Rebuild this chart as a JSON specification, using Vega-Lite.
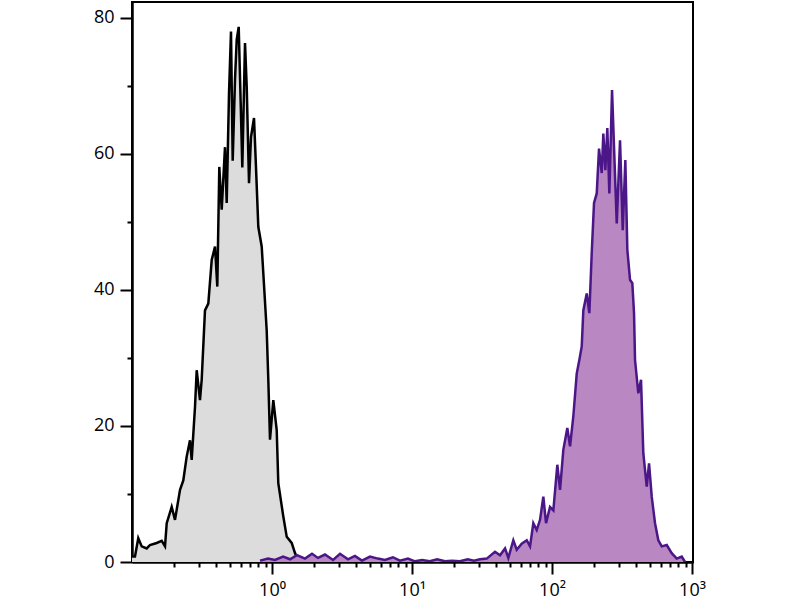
{
  "$schema": "https://vega.github.io/schema/vega-lite/v6.json",
  "width": 561,
  "height": 560,
  "autosize": {"type": "none"},
  "padding": {"left": 132, "top": 2, "right": 107, "bottom": 38},
  "background": "white",
  "config": {
    "view": {"stroke": "black", "strokeWidth": 2},
    "font": "Open Sans",
    "axis": {
      "grid": false,
      "domainColor": "black",
      "domainWidth": 2,
      "tickColor": "black",
      "tickWidth": 2,
      "labelColor": "black",
      "labelFont": "Open Sans",
      "labelFontSize": 18,
      "title": null
    }
  },
  "datasets": {
    "control": [
      {"x": 0.1, "count": 0.8}, {"x": 0.105, "count": 0.8}, {"x": 0.1109, "count": 3.5},
      {"x": 0.1173, "count": 2.3}, {"x": 0.1274, "count": 2.0}, {"x": 0.1344, "count": 2.5},
      {"x": 0.1501, "count": 2.8}, {"x": 0.163, "count": 3.1}, {"x": 0.1721, "count": 2.3},
      {"x": 0.177, "count": 5.7}, {"x": 0.1921, "count": 8.1}, {"x": 0.2028, "count": 6.2},
      {"x": 0.2203, "count": 10.6}, {"x": 0.2325, "count": 12.0}, {"x": 0.2458, "count": 15.5},
      {"x": 0.2596, "count": 17.9}, {"x": 0.2669, "count": 15.0}, {"x": 0.2818, "count": 22.8},
      {"x": 0.2898, "count": 28.2}, {"x": 0.3059, "count": 23.8}, {"x": 0.3146, "count": 26.8},
      {"x": 0.3321, "count": 37.0}, {"x": 0.3508, "count": 38.0}, {"x": 0.371, "count": 44.4},
      {"x": 0.3916, "count": 46.4}, {"x": 0.4067, "count": 40.5}, {"x": 0.4203, "count": 58.1},
      {"x": 0.4372, "count": 51.8}, {"x": 0.4615, "count": 61.0}, {"x": 0.4746, "count": 52.8},
      {"x": 0.493, "count": 68.9}, {"x": 0.5094, "count": 78.0}, {"x": 0.5239, "count": 59.0},
      {"x": 0.5441, "count": 70.9}, {"x": 0.5596, "count": 76.8}, {"x": 0.5782, "count": 78.7},
      {"x": 0.5975, "count": 67.5}, {"x": 0.6136, "count": 58.0}, {"x": 0.6414, "count": 76.3},
      {"x": 0.6597, "count": 69.9}, {"x": 0.6851, "count": 55.7}, {"x": 0.7079, "count": 62.5},
      {"x": 0.7437, "count": 65.3}, {"x": 0.7686, "count": 58.0}, {"x": 0.7983, "count": 49.3},
      {"x": 0.844, "count": 46.4}, {"x": 0.8666, "count": 42.5}, {"x": 0.9166, "count": 34.0},
      {"x": 0.941, "count": 26.8}, {"x": 0.9676, "count": 18.0}, {"x": 1.0216, "count": 23.8},
      {"x": 1.0803, "count": 19.4}, {"x": 1.109, "count": 11.6}, {"x": 1.204, "count": 6.7},
      {"x": 1.274, "count": 3.7}, {"x": 1.382, "count": 2.8}, {"x": 1.46, "count": 1.3},
      {"x": 1.541, "count": 0.3}, {"x": 1.6, "count": 0}
    ],
    "stained": [
      {"x": 0.821, "count": 0.2}, {"x": 0.936, "count": 0.5}, {"x": 1.05, "count": 0.3},
      {"x": 1.2, "count": 0.8}, {"x": 1.345, "count": 0.4}, {"x": 1.508, "count": 1.0},
      {"x": 1.72, "count": 0.5}, {"x": 1.93, "count": 1.2}, {"x": 2.13, "count": 0.6},
      {"x": 2.39, "count": 1.1}, {"x": 2.73, "count": 0.3}, {"x": 3.06, "count": 1.2},
      {"x": 3.49, "count": 0.4}, {"x": 3.91, "count": 0.9}, {"x": 4.39, "count": 0.2},
      {"x": 5.01, "count": 0.8}, {"x": 5.71, "count": 0.5}, {"x": 6.41, "count": 0.3},
      {"x": 7.3, "count": 0.7}, {"x": 8.2, "count": 0.2}, {"x": 9.35, "count": 0.5},
      {"x": 10.5, "count": 0.1}, {"x": 11.8, "count": 0.3}, {"x": 13.4, "count": 0.1},
      {"x": 15.1, "count": 0.4}, {"x": 17.2, "count": 0.1}, {"x": 19.3, "count": 0.2},
      {"x": 22.0, "count": 0.1}, {"x": 25.0, "count": 0.4}, {"x": 27.7, "count": 0.2},
      {"x": 30.6, "count": 0.4}, {"x": 34.17, "count": 0.5}, {"x": 39.16, "count": 1.5},
      {"x": 42.53, "count": 1.0}, {"x": 46.17, "count": 2.0}, {"x": 48.74, "count": 0.6},
      {"x": 52.91, "count": 3.2}, {"x": 55.96, "count": 1.8}, {"x": 60.75, "count": 2.7},
      {"x": 65.97, "count": 3.2}, {"x": 69.65, "count": 2.3}, {"x": 73.52, "count": 5.7},
      {"x": 77.75, "count": 4.7}, {"x": 82.09, "count": 6.2}, {"x": 86.68, "count": 9.6},
      {"x": 90.61, "count": 5.7}, {"x": 96.76, "count": 8.1}, {"x": 102.2, "count": 7.6},
      {"x": 109.1, "count": 14.3}, {"x": 114.1, "count": 10.6}, {"x": 120.4, "count": 16.5},
      {"x": 128.6, "count": 19.7}, {"x": 134.5, "count": 17.0}, {"x": 141.9, "count": 21.4},
      {"x": 150.1, "count": 27.7}, {"x": 156.7, "count": 29.7}, {"x": 163.0, "count": 31.7},
      {"x": 167.3, "count": 37.0}, {"x": 177.0, "count": 39.5}, {"x": 184.7, "count": 36.6},
      {"x": 192.1, "count": 45.4}, {"x": 199.5, "count": 52.8}, {"x": 208.6, "count": 54.2},
      {"x": 216.6, "count": 60.8}, {"x": 226.5, "count": 57.2}, {"x": 232.5, "count": 63.0},
      {"x": 240.3, "count": 57.6}, {"x": 248.3, "count": 63.8}, {"x": 256.7, "count": 54.2},
      {"x": 268.3, "count": 69.4}, {"x": 277.3, "count": 61.0}, {"x": 289.9, "count": 49.8},
      {"x": 306.0, "count": 62.0}, {"x": 319.9, "count": 48.8}, {"x": 333.9, "count": 59.1},
      {"x": 345.1, "count": 45.9}, {"x": 360.7, "count": 41.5}, {"x": 374.6, "count": 41.0},
      {"x": 385.2, "count": 36.6}, {"x": 391.6, "count": 29.7}, {"x": 413.4, "count": 24.8},
      {"x": 432.2, "count": 26.8}, {"x": 448.8, "count": 16.0}, {"x": 474.7, "count": 11.1},
      {"x": 493.1, "count": 14.5}, {"x": 515.4, "count": 9.6}, {"x": 544.1, "count": 5.7},
      {"x": 574.5, "count": 3.2}, {"x": 607.5, "count": 2.3}, {"x": 659.6, "count": 2.5},
      {"x": 716.1, "count": 1.3}, {"x": 777.5, "count": 0.5}, {"x": 844.2, "count": 0.8},
      {"x": 891.3, "count": 0}
    ]
  },
  "resolve": {"axis": {"x": "independent", "y": "independent"}},
  "layer": [
    {
      "data": {"name": "control"},
      "mark": {"type": "area", "color": "#dcdcdc", "opacity": 1, "fillOpacity": 1, "clip": true, "line": {"color": "black", "strokeWidth": 2.5}},
      "encoding": {
        "x": {
          "field": "x",
          "type": "quantitative",
          "scale": {"type": "log", "domain": [0.1, 1016], "nice": false},
          "axis": {
            "orient": "bottom",
            "values": [1, 10, 100, 1000],
            "labelExpr": "datum.value == 1 ? '10⁰' : datum.value == 10 ? '10¹' : datum.value == 100 ? '10²' : '10³'",
            "labelFontSize": 18,
            "labelOverlap": false,
            "labelBound": false,
            "labelFlush": false,
            "labelPadding": 7,
            "tickSize": 12,
            "tickWidth": 2
          }
        },
        "y": {
          "field": "count",
          "type": "quantitative",
          "scale": {"domain": [0, 82.35], "nice": false},
          "axis": {
            "orient": "left",
            "values": [0, 20, 40, 60, 80],
            "labelFontSize": 18,
            "labelOverlap": false,
            "labelPadding": 6,
            "tickSize": 12,
            "tickWidth": 2
          }
        }
      }
    },
    {
      "data": {"name": "stained"},
      "mark": {"type": "area", "color": "#b987c1", "opacity": 1, "fillOpacity": 1, "clip": true, "line": {"color": "#4b1687", "strokeWidth": 2.5}},
      "encoding": {
        "x": {
          "field": "x",
          "type": "quantitative",
          "scale": {"type": "log", "domain": [0.1, 1016], "nice": false},
          "axis": {
            "orient": "bottom",
            "values": [0.2, 0.3, 0.4, 0.5, 0.6, 0.7, 0.8, 0.9, 2, 3, 4, 5, 6, 7, 8, 9, 20, 30, 40, 50, 60, 70, 80, 90, 200, 300, 400, 500, 600, 700, 800, 900],
            "labels": false,
            "tickSize": 5,
            "tickWidth": 2
          }
        },
        "y": {
          "field": "count",
          "type": "quantitative",
          "scale": {"domain": [0, 82.35], "nice": false},
          "axis": {
            "orient": "left",
            "values": [10, 30, 50, 70],
            "labels": false,
            "tickSize": 5,
            "tickWidth": 2
          }
        }
      }
    }
  ]
}
